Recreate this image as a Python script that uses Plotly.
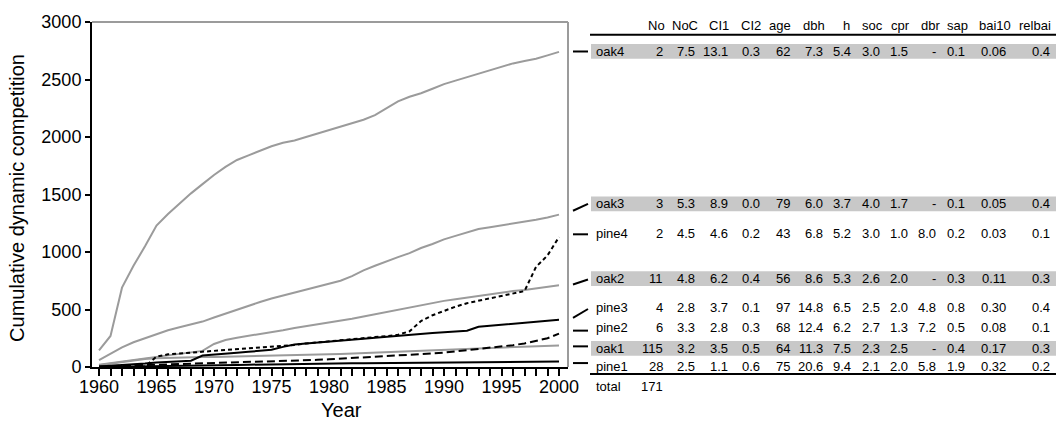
import plotly.graph_objects as go

# ---------------- data ----------------
years = list(range(1960, 2001))

oak4 = [145, 270, 690, 880, 1050, 1230, 1330, 1420, 1510, 1590, 1670, 1740, 1800, 1840, 1880,
        1920, 1950, 1970, 2000, 2030, 2060, 2090, 2120, 2150, 2190, 2250, 2310, 2350, 2380, 2420,
        2460, 2490, 2520, 2550, 2580, 2610, 2640, 2660, 2680, 2710, 2740]
oak3 = [60, 115, 170, 215, 250, 285, 320, 345, 370, 395, 430, 465, 495, 530, 565, 595, 620, 645,
        670, 695, 720, 750, 790, 840, 880, 920, 955, 990, 1035, 1070, 1110, 1140, 1170, 1200, 1215,
        1230, 1245, 1260, 1280, 1300, 1325]
oak2 = [20, 35, 50, 62, 75, 88, 100, 112, 125, 140, 200, 235, 255, 270, 285, 300, 320, 340, 355,
        370, 385, 400, 420, 440, 460, 480, 500, 520, 540, 560, 575, 590, 605, 620, 635, 650, 660,
        670, 685, 695, 710]
oak1 = [15, 30, 45, 60, 70, 76, 80, 83, 85, 87, 88, 90, 91, 93, 94, 96, 97, 98, 102, 106, 110,
        114, 118, 122, 126, 130, 134, 138, 142, 146, 150, 154, 158, 162, 166, 170, 174, 178, 181,
        184, 188]
pine4 = [0, 0, 0, 0, 5, 90, 110, 118, 125, 130, 138, 145, 152, 160, 168, 175, 182, 192, 205, 215,
         225, 235, 245, 252, 260, 268, 280, 310, 400, 450, 490, 525, 555, 575, 595, 615, 635, 660,
         870, 970, 1130]
pine3 = [5, 10, 15, 20, 30, 40, 45, 48, 55, 100, 110, 118, 125, 132, 140, 150, 175, 195, 205, 212,
         220, 228, 236, 245, 255, 264, 273, 280, 287, 295, 302, 309, 316, 350, 358, 366, 374, 382,
         390, 400, 410]
pine2 = [5, 8, 10, 12, 15, 18, 20, 22, 25, 28, 30, 33, 36, 40, 43, 47, 50, 54, 58, 62, 67, 72, 77,
         82, 88, 94, 100, 106, 112, 118, 125, 135, 145, 155, 165, 175, 190, 205, 225, 250, 290]
pine1 = [0, 1, 2, 3, 4, 5, 6, 8, 10, 12, 14, 16, 18, 20, 22, 24, 26, 27, 28, 29, 30, 31, 32, 33,
         34, 35, 36, 37, 38, 39, 40, 41, 42, 42, 43, 44, 45, 45, 46, 47, 48]

x_ticks = [1960, 1965, 1970, 1975, 1980, 1985, 1990, 1995, 2000]
y_ticks = [0, 500, 1000, 1500, 2000, 2500, 3000]

table_cols = ["No", "NoC", "CI1", "CI2", "age", "dbh", "h", "soc", "cpr", "dbr", "sap", "bai10", "relbai"]
table_rows = ["oak4", "oak3", "pine4", "oak2", "pine3", "pine2", "oak1", "pine1"]
row_oak4 = ["2", "7.5", "13.1", "0.3", "62", "7.3", "5.4", "3.0", "1.5", "-", "0.1", "0.06", "0.4"]
row_oak3 = ["3", "5.3", "8.9", "0.0", "79", "6.0", "3.7", "4.0", "1.7", "-", "0.1", "0.05", "0.4"]
row_pine4 = ["2", "4.5", "4.6", "0.2", "43", "6.8", "5.2", "3.0", "1.0", "8.0", "0.2", "0.03", "0.1"]
row_oak2 = ["11", "4.8", "6.2", "0.4", "56", "8.6", "5.3", "2.6", "2.0", "-", "0.3", "0.11", "0.3"]
row_pine3 = ["4", "2.8", "3.7", "0.1", "97", "14.8", "6.5", "2.5", "2.0", "4.8", "0.8", "0.30", "0.4"]
row_pine2 = ["6", "3.3", "2.8", "0.3", "68", "12.4", "6.2", "2.7", "1.3", "7.2", "0.5", "0.08", "0.1"]
row_oak1 = ["115", "3.2", "3.5", "0.5", "64", "11.3", "7.5", "2.3", "2.5", "-", "0.4", "0.17", "0.3"]
row_pine1 = ["28", "2.5", "1.1", "0.6", "75", "20.6", "9.4", "2.1", "2.0", "5.8", "1.9", "0.32", "0.2"]
total_label = "total"
total_no = "171"

# ---------------- layout helpers ----------------
W, H = 1056, 423
L, R, T, B = 92, 568, 16, 367
FONT = "Liberation Sans, Arial, sans-serif"
GREY = "rgb(155,155,155)"
BAND = "rgb(200,200,200)"


def px(x):
    return (x - L) / (R - L)


def py(y):
    return (B - y) / (B - T)


fig = go.Figure()

series = [
    ("oak4", oak4, GREY, "solid"),
    ("oak3", oak3, GREY, "solid"),
    ("oak2", oak2, GREY, "solid"),
    ("oak1", oak1, GREY, "solid"),
    ("pine1", pine1, "black", "solid"),
    ("pine2", pine2, "black", "8px,4px"),
    ("pine3", pine3, "black", "solid"),
    ("pine4", pine4, "black", "4px,3px"),
]
for name, vals, col, dash in series:
    fig.add_trace(go.Scatter(x=years, y=vals, mode="lines", name=name,
                             line=dict(color=col, width=2, dash=dash), showlegend=False))

shapes = []
annotations = []

# grey top / right frame
shapes.append(dict(type="line", xref="paper", yref="paper", x0=0, x1=1, y0=1, y1=1,
                   line=dict(color=GREY, width=2)))
shapes.append(dict(type="line", xref="paper", yref="paper", x0=1, x1=1, y0=0, y1=1,
                   line=dict(color=GREY, width=2)))

# table geometry
row_y = {"oak4": 46, "oak3": 201, "pine4": 231, "oak2": 277, "pine3": 306,
         "pine2": 327, "oak1": 348, "pine1": 366}
banded = ["oak4", "oak3", "oak2", "oak1"]
col_right = [665, 697, 730, 762, 792, 825, 853, 882, 910, 938, 967, 1008, 1052]
head_right = [667, 700, 731, 763, 793, 827, 852, 885, 912, 942, 970, 1013, 1053]
connectors = {"oak4": (46, 46), "oak3": (208, 201), "pine4": (232, 232), "oak2": (283, 278),
              "pine3": (317, 308), "pine2": (330, 330), "oak1": (346, 346), "pine1": (363, 363)}
row_values = {"oak4": row_oak4, "oak3": row_oak3, "pine4": row_pine4, "oak2": row_oak2,
              "pine3": row_pine3, "pine2": row_pine2, "oak1": row_oak1, "pine1": row_pine1}

TFS = 13
for r in banded:
    yc = row_y[r]
    shapes.append(dict(type="rect", xref="paper", yref="paper", x0=px(591), x1=px(1056),
                       y0=py(yc + 7.5), y1=py(yc - 7.5), fillcolor=BAND, line=dict(width=0),
                       layer="below"))

# rules
shapes.append(dict(type="line", xref="paper", yref="paper", x0=px(590), x1=px(1056),
                   y0=py(29), y1=py(29), line=dict(color="black", width=2)))
shapes.append(dict(type="line", xref="paper", yref="paper", x0=px(590), x1=px(1056),
                   y0=py(374), y1=py(374), line=dict(color="black", width=2)))

for c, xr in zip(table_cols, head_right):
    annotations.append(dict(text=c, xref="paper", yref="paper", x=px(xr), y=py(20),
                            xanchor="right", yanchor="middle", showarrow=False,
                            font=dict(size=TFS, color="black", family=FONT)))

for r in table_rows:
    yc = row_y[r]
    annotations.append(dict(text=r, xref="paper", yref="paper", x=px(594), y=py(yc),
                            xanchor="left", yanchor="middle", showarrow=False,
                            font=dict(size=TFS, color="black", family=FONT)))
    for v, xr in zip(row_values[r], col_right):
        annotations.append(dict(text=v, xref="paper", yref="paper", x=px(xr), y=py(yc),
                                xanchor="right", yanchor="middle", showarrow=False,
                                font=dict(size=TFS, color="black", family=FONT)))
    y0, y1 = connectors[r]
    shapes.append(dict(type="line", xref="paper", yref="paper", x0=px(573), x1=px(588),
                       y0=py(y0), y1=py(y1), line=dict(color="black", width=2)))

annotations.append(dict(text=total_label, xref="paper", yref="paper", x=px(594), y=py(387),
                        xanchor="left", yanchor="middle", showarrow=False,
                        font=dict(size=TFS, color="black", family=FONT)))
annotations.append(dict(text=total_no, xref="paper", yref="paper", x=px(665), y=py(387),
                        xanchor="right", yanchor="middle", showarrow=False,
                        font=dict(size=TFS, color="black", family=FONT)))

# axis titles
annotations.append(dict(text="Cumulative dynamic competition", xref="paper", yref="paper",
                        x=px(17), y=py(195), textangle=-90, xanchor="center", yanchor="middle",
                        showarrow=False, font=dict(size=20, color="black", family=FONT)))
annotations.append(dict(text="Year", xref="paper", yref="paper", x=px(341), y=py(411),
                        xanchor="center", yanchor="middle", showarrow=False,
                        font=dict(size=20, color="black", family=FONT)))

x_lo = 1960 - 7 / 11.5
x_hi = 2000 + 9 / 11.5

fig.update_layout(
    width=W, height=H,
    margin=dict(l=L, r=W - R, t=T, b=H - B, pad=0),
    paper_bgcolor="white", plot_bgcolor="white",
    font=dict(family=FONT, color="black"),
    shapes=shapes, annotations=annotations,
    xaxis=dict(range=[x_lo, x_hi], tickvals=x_ticks, ticktext=[str(t) for t in x_ticks],
               ticks="outside", ticklen=7, tickwidth=1.5, tickcolor="black",
               ticklabelstandoff=-5,
               minor=dict(dtick=1, tick0=1960, ticks="outside", ticklen=7, tickwidth=1.5,
                          tickcolor="black", showgrid=False),
               showline=True, linecolor="black", linewidth=2, showgrid=False, zeroline=False,
               tickfont=dict(size=18, family=FONT, color="black")),
    yaxis=dict(range=[0, 3000], tickvals=y_ticks, ticks="outside", ticklen=5, tickwidth=1.5,
               tickcolor="black", showline=True, linecolor="black", linewidth=2,
               showgrid=False, zeroline=False,
               tickfont=dict(size=18, family=FONT, color="black")),
)

fig.write_html("out.html")
